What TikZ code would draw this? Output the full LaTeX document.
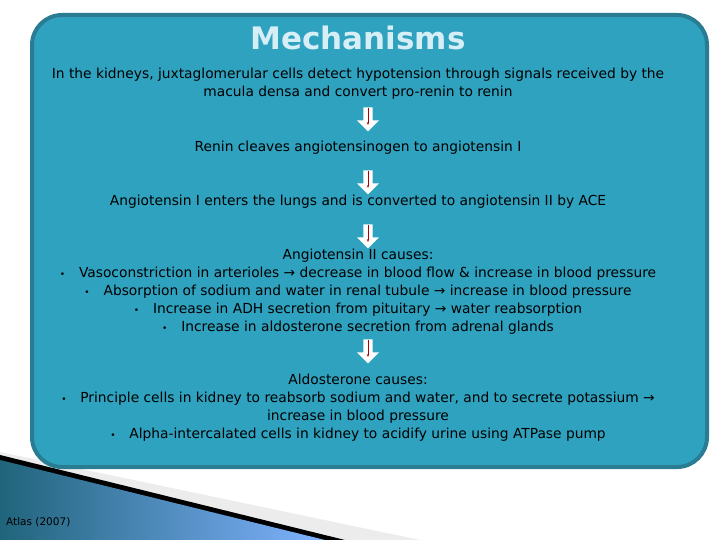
\documentclass[tikz,border=0pt]{standalone}
\usepackage{fontspec}
\setmainfont{DejaVu Sans}
\usetikzlibrary{shapes.arrows,arrows.meta}
\definecolor{boxfill}{HTML}{2FA2BF}
\definecolor{boxline}{HTML}{2A7C93}
\definecolor{titlec}{HTML}{D6EEF5}
\definecolor{wedge}{HTML}{2E8FB0}
\tikzset{
  txt/.style={text=black,font=\fontsize{13.8}{18}\selectfont,align=center,inner sep=0pt},
  barrow/.style={single arrow,shape border rotate=270,fill=white,minimum width=22pt,minimum height=24pt,single arrow head extend=3pt,inner sep=2pt},
}
\newcommand{\bul}{{\small•}\quad}
\begin{document}
\begin{tikzpicture}[x=1pt,y=-1pt]
\useasboundingbox (0,0) rectangle (720,540);
% bottom-left decoration
\fill[gray!15] (0,452) -- (420,540) -- (0,540) -- cycle;
\fill[black] (0,455) -- (345,540) -- (0,540) -- cycle;
\shade[left color=wedge!70!black,right color=cyan!40!blue!50] (0,460) -- (325,540) -- (0,540) -- cycle;
\node[anchor=south west,font=\fontsize{10.5}{12}\selectfont,inner sep=0pt] (cite) at (6,527) {Atlas (2007)};
% main box
\draw[fill=boxfill,draw=boxline,line width=4pt,rounded corners=30pt] (32,15) rectangle (707,467);
\node[font=\bfseries\fontsize{31}{36}\selectfont,text=titlec] (title) at (358,38) {Mechanisms};
\node[txt] (t1) at (358,84) {In the kidneys, juxtaglomerular cells detect hypotension through signals received by the\\macula densa and convert pro-renin to renin};
\node[txt] (t2) at (358,148) {Renin cleaves angiotensinogen to angiotensin I};
\node[txt] (t3) at (358,202) {Angiotensin I enters the lungs and is converted to angiotensin II by ACE};
\node[txt] (t4) at (358,292) {Angiotensin II causes:\\
\bul Vasoconstriction in arterioles → decrease in blood flow \& increase in blood pressure\\
\bul Absorption of sodium and water in renal tubule → increase in blood pressure\\
\bul Increase in ADH secretion from pituitary → water reabsorption\\
\bul Increase in aldosterone secretion from adrenal glands};
\node[txt] (t5) at (358,408) {Aldosterone causes:\\
\bul Principle cells in kidney to reabsorb sodium and water, and to secrete potassium →\\
increase in blood pressure\\
\bul Alpha-intercalated cells in kidney to acidify urine using ATPase pump};
\foreach \n/\y in {a1/117,a2/180,a3/234,a4/349}{
  \node[barrow] (\n) at (368,\y) {};
  \draw[red!70!black,line width=0.8pt,-{Stealth[length=3pt]}] (\n.center) ++(0,-9) -- ++(0,17);
}
\end{tikzpicture}
\end{document}
